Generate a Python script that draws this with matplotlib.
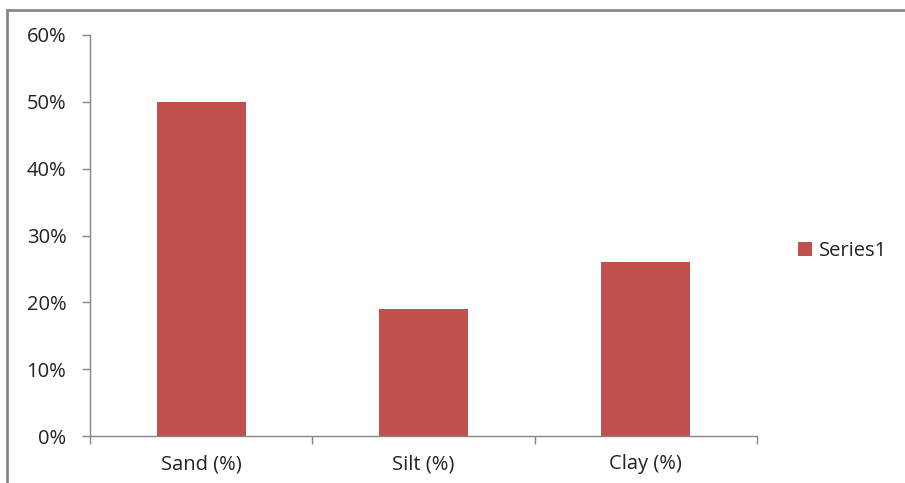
import matplotlib.pyplot as plt
from matplotlib.lines import Line2D
from matplotlib.ticker import PercentFormatter

categories = ['Sand (%)', 'Silt (%)', 'Clay (%)']
values = [0.50, 0.19, 0.26]
series_name = 'Series1'

bar_color = '#C0504D'
axis_color = '#868686'
text_color = '#222222'

plt.rcParams['font.family'] = ['Open Sans', 'DejaVu Sans']

W, H = 905, 483
fig = plt.figure(figsize=(W / 100, H / 100), dpi=100)
ax = fig.add_axes([90 / W, 1 - 436 / H, (757 - 90) / W, (436 - 35) / H])

x = range(len(categories))
bars = ax.bar(x, values, width=0.4, color=bar_color, label=series_name, zorder=2)

ax.set_xlim(-0.5, len(categories) - 0.5)
ax.set_ylim(0, 0.6)
ax.set_yticks([i / 10 for i in range(7)])
ax.yaxis.set_major_formatter(PercentFormatter(1.0, decimals=0))

# category labels sit between the tick marks, which fall on category boundaries
ax.set_xticks([i - 0.5 for i in range(len(categories) + 1)])
ax.set_xticklabels([])
ax.set_xticks(list(x), minor=True)
ax.set_xticklabels(categories, minor=True)
ax.tick_params(axis='x', which='major', length=6, width=1, color=axis_color)
ax.tick_params(axis='x', which='minor', length=0, pad=13, labelsize=14.5, labelcolor=text_color)
ax.tick_params(axis='y', length=6, width=1, color=axis_color, pad=11, labelsize=14.5, labelcolor=text_color)

for side in ['top', 'right']:
    ax.spines[side].set_visible(False)
for side in ['left', 'bottom']:
    ax.spines[side].set_color(axis_color)
    ax.spines[side].set_linewidth(1)

leg = fig.legend(handles=[bars], labels=[series_name], loc='center left',
                 bbox_to_anchor=(780 / W, 1 - 251 / H), frameon=False,
                 handlelength=0.7, handleheight=0.7, handletextpad=0.35, fontsize=14.5,
                 labelcolor=text_color)

# chart frame (top and left edges)
fig.add_artist(Line2D([7 / W, 1], [1 - 10 / H, 1 - 10 / H], color='#888888', lw=2))
fig.add_artist(Line2D([7 / W, 7 / W], [0, 1 - 10 / H], color='#888888', lw=2))

fig.savefig('out.png', dpi=100)
